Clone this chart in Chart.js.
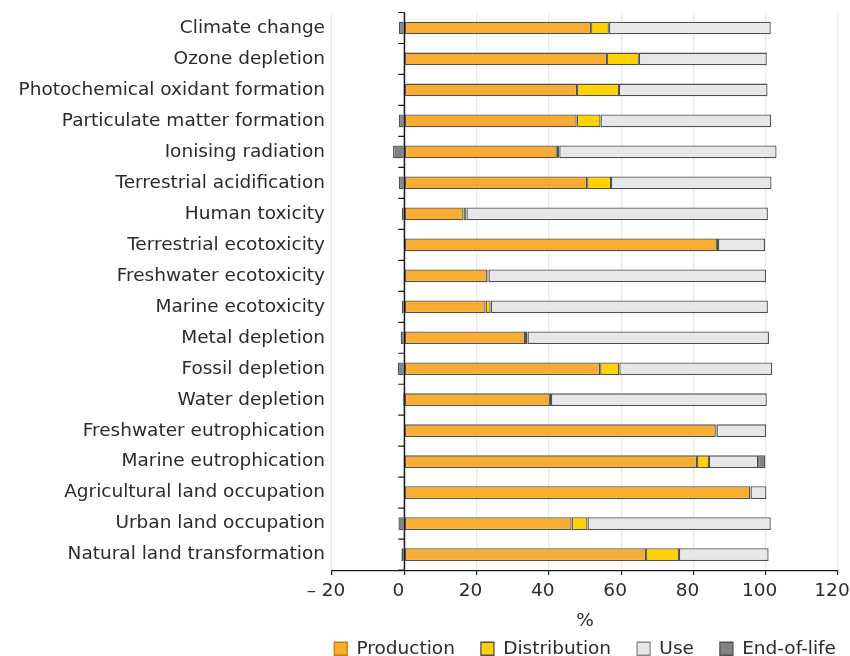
<!DOCTYPE html>
<html>
<head>
<meta charset="utf-8">
<script src="https://cdn.jsdelivr.net/npm/chart.js@4/dist/chart.umd.min.js"></script>
<style>
html,body{margin:0;padding:0;background:#fff;}
#wrap{width:850px;height:656px;position:relative;}
</style>
</head>
<body>
<div id="wrap"><canvas id="c" width="850" height="656"></canvas></div>
<script>
const categories = ["Climate change","Ozone depletion","Photochemical oxidant formation","Particulate matter formation","Ionising radiation","Terrestrial acidification","Human toxicity","Terrestrial ecotoxicity","Freshwater ecotoxicity","Marine ecotoxicity","Metal depletion","Fossil depletion","Water depletion","Freshwater eutrophication","Marine eutrophication","Agricultural land occupation","Urban land occupation","Natural land transformation"];
const production   = [51.7, 56.1, 47.8, 47.7, 42.2, 50.6, 16.4, 86.5, 23.0, 22.5, 33.4, 54.2, 40.3, 86.2, 81.0, 95.7, 46.3, 66.9];
const distribution = [4.9, 8.8, 11.6, 6.6, 0.7, 6.6, 0.8, 0.3, 0.3, 1.4, 0.7, 5.3, 0.3, 0.2, 3.3, 0.1, 4.4, 9.1];
const use          = [44.8, 35.4, 41.1, 47.2, 60.1, 44.4, 83.4, 13.0, 76.8, 76.7, 66.8, 42.3, 59.7, 13.7, 13.6, 4.4, 50.7, 24.8];
const endOfLife    = [-1.5, -0.2, -0.1, -1.5, -3.1, -1.5, -0.7, 0, 0, -0.7, -1.0, -1.8, -0.4, -0.2, 2.0, -0.2, -1.6, -0.8];
const seriesNames  = ["Production","Distribution","Use","End-of-life"];
const xMin = -20, xMax = 120, xStep = 20;

const FONT = "'DejaVu Sans', Verdana, sans-serif";
const FS = 18.5;
const TXT = '#2b2b2b';

const catTicks = {
  id: 'catTicks',
  afterDraw(chart) {
    const {ctx, scales: {x, y}} = chart;
    const x0 = x.getPixelForValue(0);
    const n = categories.length;
    ctx.save();
    ctx.strokeStyle = '#1a1a1a';
    ctx.lineWidth = 1.2;
    ctx.beginPath();
    ctx.moveTo(x0, y.top); ctx.lineTo(x0, y.bottom);
    for (let i = 0; i <= n; i++) {
      const yy = y.top + i * (y.height / n);
      ctx.moveTo(x0 - 6, yy); ctx.lineTo(x0, yy);
    }
    ctx.stroke();
    ctx.restore();
  }
};

const mk = (label, data, bg) => ({
  label, data, backgroundColor: bg, borderColor: '#505050', borderWidth: 1.3,
  borderSkipped: false, barPercentage: 0.41, categoryPercentage: 1.0
});

new Chart(document.getElementById('c'), {
  type: 'bar',
  data: {
    labels: categories,
    datasets: [
      mk(seriesNames[0], production, '#F9AC32'),
      mk(seriesNames[1], distribution, '#FFD200'),
      mk(seriesNames[2], use, '#E6E7E8'),
      mk(seriesNames[3], endOfLife, '#808285')
    ]
  },
  options: {
    indexAxis: 'y',
    responsive: false,
    animation: false,
    layout: {padding: {top: 12.5, left: 0, right: -12, bottom: -12}},
    scales: {
      x: {
        stacked: true, min: xMin, max: xMax,
        ticks: {stepSize: xStep, color: TXT, font: {family: FONT, size: FS}, padding: 5, labelOffset: -6,
          callback: v => v < 0 ? '\u2013 ' + Math.abs(v) : String(v)},
        grid: {
          color: c => (c.tick && c.tick.value === 0) ? '#1a1a1a' : '#e8e8e8',
          tickColor: '#1a1a1a', tickLength: 5, lineWidth: 1.2
        },
        border: {display: true, color: '#1a1a1a', width: 1.2},
        title: {display: true, text: '%', color: TXT, font: {family: FONT, size: FS}, padding: {top: 3, bottom: -19}},
        afterFit: s => { s.paddingRight = 12; }
      },
      y: {
        stacked: true,
        grid: {display: false, drawTicks: false},
        border: {display: false},
        ticks: {color: TXT, font: {family: FONT, size: FS}, padding: 7, autoSkip: false},
        afterFit: s => { s.width = 332; s.paddingTop = 0; s.paddingBottom = 0; }
      }
    },
    plugins: {
      legend: {
        position: 'bottom', align: 'end',
        labels: {
          color: TXT, font: {family: FONT, size: FS},
          boxWidth: 13, boxHeight: 13, padding: 26,
          generateLabels: chart => chart.data.datasets.map((d, i) => ({
            text: d.label, fillStyle: d.backgroundColor,
            strokeStyle: i === 0 ? '#c87d10' : (i === 2 ? '#8a8a8a' : '#505050'),
            lineWidth: 1.3, datasetIndex: i, hidden: false, fontColor: TXT
          }))
        }
      },
      tooltip: {enabled: false}
    }
  },
  plugins: [catTicks]
});
</script>
</body>
</html>
